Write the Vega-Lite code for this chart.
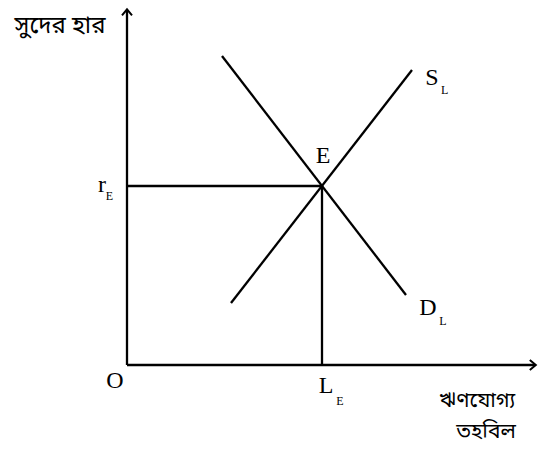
{
  "$schema": "https://vega.github.io/schema/vega-lite/v6.json",
  "width": 541,
  "height": 458,
  "autosize": {"type": "fit", "contains": "padding"},
  "padding": 0,
  "background": "white",
  "config": {"view": {"stroke": null}},
  "datasets": {
    "lines": [
      {"seg": "yaxis", "x": 0, "y": 0},
      {"seg": "yaxis", "x": 0, "y": 88.75},
      {"seg": "xaxis", "x": 0, "y": 0},
      {"seg": "xaxis", "x": 102, "y": 0},
      {"seg": "demand", "x": 23.75, "y": 77.25},
      {"seg": "demand", "x": 69.75, "y": 17.5},
      {"seg": "supply", "x": 26, "y": 15.5},
      {"seg": "supply", "x": 71.25, "y": 73.75},
      {"seg": "hline", "x": 0, "y": 44.75},
      {"seg": "hline", "x": 48.75, "y": 44.75},
      {"seg": "vline", "x": 48.75, "y": 0},
      {"seg": "vline", "x": 48.75, "y": 44.75}
    ],
    "arrows": [
      {"dir": "up", "x": 0, "y": 88.9},
      {"dir": "right", "x": 102.2, "y": 0}
    ],
    "big": [
      {"t": "r", "x": -6.25, "y": 43.25},
      {"t": "E", "x": 49, "y": 50.5},
      {"t": "S", "x": 76.2, "y": 70},
      {"t": "D", "x": 75.25, "y": 12.5},
      {"t": "O", "x": -3, "y": -5.75},
      {"t": "L", "x": 49.75, "y": -7}
    ],
    "sub": [
      {"t": "E", "x": -4.4, "y": 41.25},
      {"t": "L", "x": 79.4, "y": 67.8},
      {"t": "L", "x": 79, "y": 10},
      {"t": "E", "x": 53.2, "y": -10}
    ],
    "heading": [
      {"t": "সুদের হার", "x": -16.75, "y": 84.75}
    ],
    "bengali": [
      {"t": "ঋণযোগ্য", "x": 87.5, "y": -9},
      {"t": "তহবিল", "x": 89.75, "y": -16.75}
    ]
  },
  "encoding": {
    "x": {"field": "x", "type": "quantitative", "scale": {"domain": [-31.75, 103.5], "nice": false, "zero": false}, "axis": null},
    "y": {"field": "y", "type": "quantitative", "scale": {"domain": [-23.25, 91.25], "nice": false, "zero": false}, "axis": null}
  },
  "layer": [
    {
      "data": {"name": "lines"},
      "mark": {"type": "line", "color": "black", "strokeWidth": 2.3},
      "encoding": {"detail": {"field": "seg"}}
    },
    {
      "data": {"name": "arrows"},
      "transform": [{"filter": "datum.dir == 'up'"}],
      "mark": {"type": "point", "shape": "M-1,1.2L0,0L1,1.2", "filled": false, "stroke": "black", "strokeWidth": 2, "size": 100, "opacity": 1}
    },
    {
      "data": {"name": "arrows"},
      "transform": [{"filter": "datum.dir == 'right'"}],
      "mark": {"type": "point", "shape": "M-1.2,-1L0,0L-1.2,1", "filled": false, "stroke": "black", "strokeWidth": 2, "size": 100, "opacity": 1}
    },
    {
      "data": {"name": "big"},
      "mark": {"type": "text", "font": "Liberation Serif", "fontSize": 24, "align": "center", "baseline": "alphabetic", "color": "black"},
      "encoding": {"text": {"field": "t"}}
    },
    {
      "data": {"name": "sub"},
      "mark": {"type": "text", "font": "Liberation Serif", "fontSize": 12, "align": "center", "baseline": "alphabetic", "color": "black"},
      "encoding": {"text": {"field": "t"}}
    },
    {
      "data": {"name": "heading"},
      "mark": {"type": "text", "font": "Noto Sans Bengali, Noto Serif Bengali, Lohit Bengali, sans-serif", "fontSize": 24, "align": "center", "baseline": "middle", "color": "black"},
      "encoding": {"text": {"field": "t"}}
    },
    {
      "data": {"name": "bengali"},
      "mark": {"type": "text", "font": "Noto Sans Bengali, Noto Serif Bengali, Lohit Bengali, sans-serif", "fontSize": 21, "align": "center", "baseline": "middle", "color": "black"},
      "encoding": {"text": {"field": "t"}}
    }
  ]
}
